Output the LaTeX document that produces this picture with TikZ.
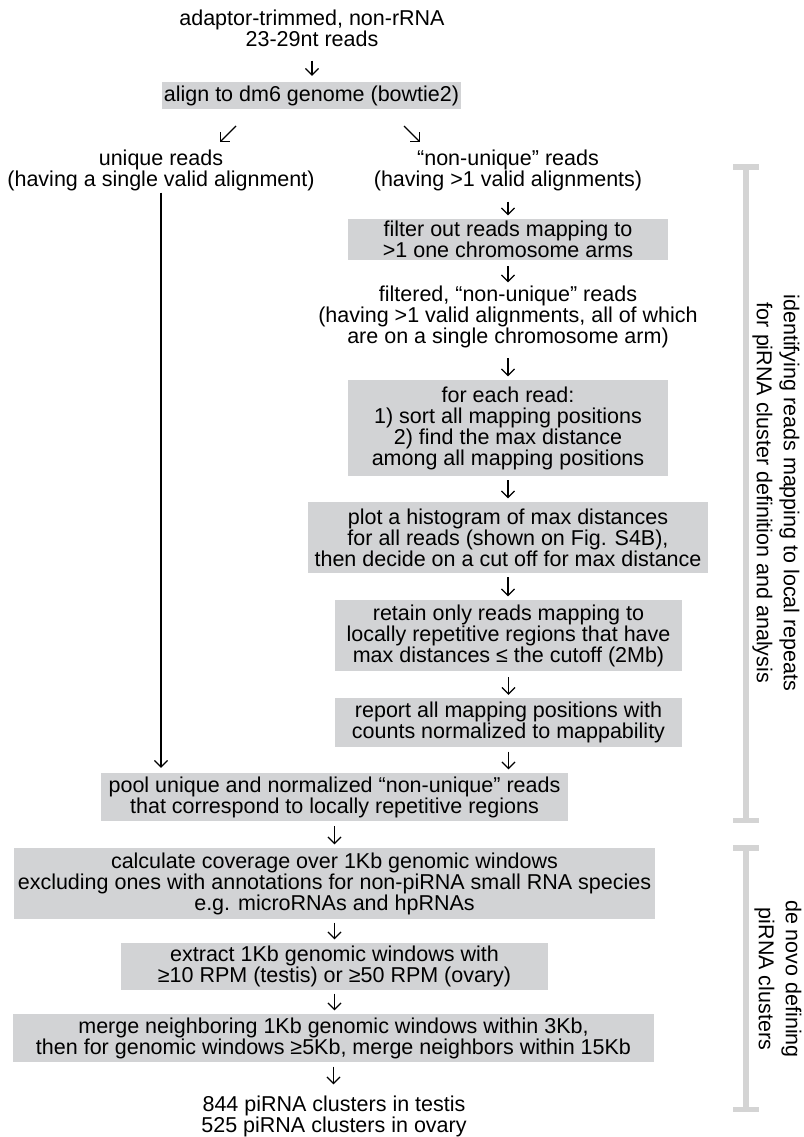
\documentclass[tikz,border=0pt]{standalone}
\usepackage{fontspec}
\setmainfont{Liberation Sans}
\usetikzlibrary{arrows.meta,calc}
\definecolor{boxgray}{RGB}{210,211,213}
\definecolor{brgray}{RGB}{212,212,212}
\newcommand\myfs{\fontsize{21.5}{21}\selectfont}
\begin{document}
\begin{tikzpicture}[x=1pt,y=-1pt,
  txt/.style={align=center, inner sep=0pt, font=\myfs},
  gbox/.style={txt, fill=boxgray},
  arr/.style={-{Straight Barb[length=6.5pt,width=13pt]}, line width=1.2pt, shorten >=3.5pt},
  br/.style={draw=brgray, line width=5.5pt},
  sidelab/.style={align=center, inner sep=0pt, rotate=-90, font=\fontsize{21.5}{27}\selectfont}]
\useasboundingbox (0,0) rectangle (803,1137);

\node[txt] (title) at (312,28) {adaptor-trimmed, non-rRNA\\23-29nt reads};
\node[gbox, minimum width=299pt, minimum height=27pt] (align) at (311.5,95.5) {align to dm6 genome (bowtie2)};
\node[txt] (uniq) at (161,170) {unique reads\\(having a single valid alignment)};
\node[txt] (nonu) at (508,170) {“non-unique” reads\\(having >1 valid alignments)};
\node[gbox, minimum width=320pt, minimum height=41pt] (filter) at (508,239.5) {filter out reads mapping to\\>1 one chromosome arms};
\node[txt] (filtd) at (508,317) {filtered, “non-unique” reads\\(having >1 valid alignments, all of which\\are on a single chromosome arm)};
\node[gbox, minimum width=320pt, minimum height=96pt] (each) at (508,428) {for each read:\\1) sort all mapping positions\\2) find the max distance\\among all mapping positions};
\node[gbox, minimum width=400pt, minimum height=71pt] (plot) at (508,537.5) {plot a histogram of max distances\\for all reads (shown on Fig. S4B),\\then decide on a cut off for max distance};
\node[gbox, minimum width=347pt, minimum height=71pt] (retain) at (508.5,635.5) {retain only reads mapping to\\locally repetitive regions that have\\max distances ≤ the cutoff (2Mb)};
\node[gbox, minimum width=347pt, minimum height=49pt] (report) at (508.5,722.5) {report all mapping positions with\\counts normalized to mappability};
\node[gbox, minimum width=467pt, minimum height=48pt] (pool) at (334.5,797) {pool unique and normalized “non-unique” reads\\that correspond to locally repetitive regions};
\node[gbox, minimum width=641pt, minimum height=71pt] (calc) at (334.5,883.5) {calculate coverage over 1Kb genomic windows\\excluding ones with annotations for non-piRNA small RNA species\\e.g. microRNAs and hpRNAs};
\node[gbox, minimum width=427pt, minimum height=47pt] (extract) at (334.5,966.5) {extract 1Kb genomic windows with\\≥10 RPM (testis) or ≥50 RPM (ovary)};
\node[gbox, minimum width=641pt, minimum height=48pt] (merge) at (333.5,1038) {merge neighboring 1Kb genomic windows within 3Kb,\\then for genomic windows ≥5Kb, merge neighbors within 15Kb};
\node[txt] (final) at (334,1116) {844 piRNA clusters in testis\\525 piRNA clusters in ovary};

\node[sidelab] (lab1) at (776,493) {identifying reads mapping to local repeats\\for piRNA cluster definition and analysis};
\node[sidelab] (lab2) at (778,979) {de novo defining\\piRNA clusters};

% arrows
\draw[arr, shorten <=14pt, shorten >=6pt] (title.south) -- (title.south |- align.north);
\coordinate (dl0) at (236,126); \coordinate (dl1) at (220,142);
\coordinate (dr0) at (404,126); \coordinate (dr1) at (420,142);
\draw[arr, shorten >=0pt] (dl0) -- (dl1);
\draw[arr, shorten >=0pt] (dr0) -- (dr1);
\draw[arr, shorten <=11pt] (nonu.south) -- (nonu.south |- filter.north);
\draw[arr, shorten <=6pt] (filter.south) -- (filter.south |- filtd.north);
\draw[arr, shorten <=10pt] (filtd.south) -- (filtd.south |- each.north);
\draw[arr, shorten <=4pt] (each.south) -- (each.south |- plot.north);
\draw[arr, shorten <=4pt] (plot.south) -- (plot.south |- retain.north);
\draw[arr, shorten <=6pt, shorten >=3pt] (retain.south) -- (retain.south |- report.north);
\draw[arr, shorten <=4.5pt] (report.south) -- (report.south |- pool.north);
\draw[arr, shorten <=2pt, shorten >=5pt] (uniq.south) -- (uniq.south |- pool.north);
\draw[arr, shorten <=5pt] (pool.south) -- (pool.south |- calc.north);
\draw[arr, shorten <=3.5pt] (calc.south) -- (calc.south |- extract.north);
\draw[arr, shorten <=3.5pt] (extract.south) -- (extract.south |- merge.north);
\draw[arr, shorten <=4.5pt, shorten >=11pt] (merge.south) -- (merge.south |- final.north);

% brackets
\draw[br] (733,167) -- (759,167) (746,167) -- (746,820.5) (733,820.5) -- (759,820.5);
\draw[br] (733,848) -- (759,848) (746,848) -- (746,1109.5) (733,1109.5) -- (759,1109.5);
\end{tikzpicture}
\end{document}
